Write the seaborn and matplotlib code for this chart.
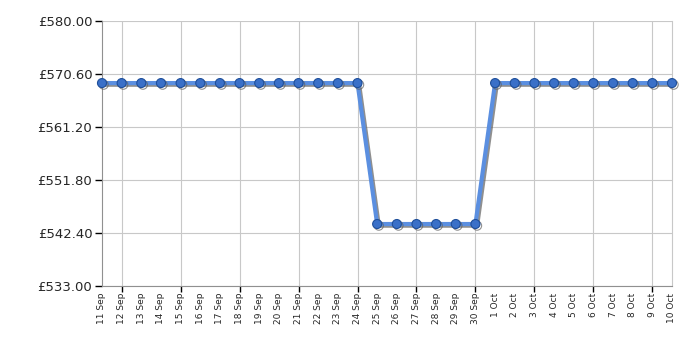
import matplotlib
matplotlib.use("Agg")
import matplotlib.pyplot as plt
import matplotlib.patheffects as pe
import seaborn as sns
import pandas as pd
import numpy as np

dates = [f"{d} Sep" for d in range(11, 31)] + [f"{d} Oct" for d in range(1, 11)]
prices = [568.99] * 14 + [543.99] * 6 + [568.99] * 10
y_ticks = [533.00, 542.40, 551.80, 561.20, 570.60, 580.00]

df = pd.DataFrame({"idx": np.arange(len(dates)), "price": prices})

sns.set_style("white")
plt.rcParams['font.family'] = ['Verdana', 'DejaVu Sans']

fig = plt.figure(figsize=(7, 3.5), dpi=100)
ax = fig.add_axes([0.1457, 0.1829, 0.8143, 0.7571])

shadow = [pe.SimpleLineShadow(offset=(1.2, -1.2), shadow_color='#606060', alpha=0.7), pe.Normal()]
sns.lineplot(data=df, x="idx", y="price", ax=ax, color="#5b8fe0", linewidth=3,
             marker="o", markersize=6.5, markerfacecolor="#3a70c8", markeredgecolor="#1f4f9a",
             markeredgewidth=0.8, path_effects=shadow, zorder=5, clip_on=False)

ax.set_xlim(0, len(dates) - 1)
ax.set_ylim(533, 580)
ax.set_yticks(y_ticks)
ax.set_yticklabels([f"£{v:.2f}" for v in y_ticks], fontsize=9.5, family=['DejaVu Sans'])

ax.xaxis.remove_overlapping_locs = False
ax.set_xticks(range(len(dates)))
ax.set_xticklabels(dates, rotation=90, fontsize=6.5)
ax.set_xticks(list(range(1, len(dates), 3)), minor=True)
ax.tick_params(axis='x', which='major', length=0, pad=5)
ax.tick_params(axis='x', which='minor', length=4, width=1, color='black', direction='out', bottom=True)
ax.tick_params(axis='y', length=5, width=1, color='black', direction='out', pad=2, left=True)

ax.grid(False)
ax.grid(True, axis='y', which='major', color='#c8c8c8', linewidth=0.8)
ax.grid(True, axis='x', which='minor', color='#c8c8c8', linewidth=0.8)
ax.set_axisbelow(True)
for s in ['left', 'bottom']:
    ax.spines[s].set_color('#909090')
ax.spines['top'].set_visible(False)
ax.spines['right'].set_color('#c8c8c8')
ax.set_xlabel("")
ax.set_ylabel("")

fig.savefig("out.png", dpi=100)
